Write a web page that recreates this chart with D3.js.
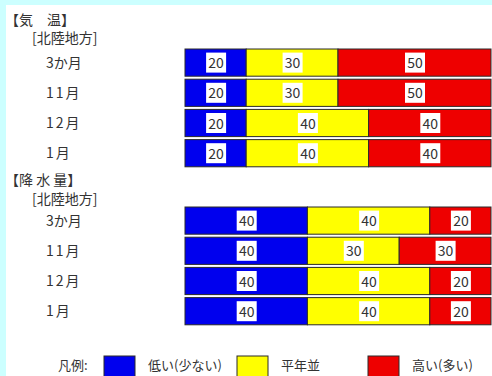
<!DOCTYPE html>
<html>
<head>
<meta charset="utf-8">
<script src="https://cdn.jsdelivr.net/npm/d3@7"></script>
<style>
  html, body { margin: 0; padding: 0; background: #ccffff; }
  svg { display: block; }
  text { font-family: "Noto Sans CJK JP", sans-serif; fill: #333; }
</style>
</head>
<body>
<div id="chart"></div>
<script>
// data
var categories = ["3か月", "11月", "12月", "1月"];
var tempLow = [20, 20, 20, 20];
var tempNormal = [30, 30, 40, 40];
var tempHigh = [50, 50, 40, 40];
var rainLow = [40, 40, 40, 40];
var rainNormal = [40, 30, 40, 40];
var rainHigh = [20, 30, 20, 20];
var legendLabels = ["低い(少ない)", "平年並", "高い(多い)"];
var colors = ["#0000ee", "#ffff00", "#ee0000"];

var width = 492, height = 376;

var svg = d3.select("#chart").append("svg")
	.attr("width", width)
	.attr("height", height);

// white panel
svg.append("rect")
	.attr("x", 6).attr("y", 5)
	.attr("width", width - 6).attr("height", height - 5)
	.attr("fill", "#fff");

var x = d3.scaleLinear().domain([0, 100]).range([185, 491]);

function section(title, titleY, subY, barTop, low, normal, high) {
	var g = svg.append("g");
	g.append("text").attr("x", 5).attr("y", titleY).attr("font-size", 14).text(title);
	g.append("text").attr("x", 32).attr("y", subY).attr("font-size", 14).text("[北陸地方]");

	// rows are 27px tall on a 30px pitch
	var y = d3.scaleBand().domain(categories).range([barTop - 1.5, barTop - 1.5 + 4 * 30.2]).paddingInner(0.1).paddingOuter(0.05);

	var rows = categories.map(function (c, i) {
		var vals = [low[i], normal[i], high[i]];
		var acc = 0;
		return vals.map(function (v, j) {
			var seg = { cat: c, k: j, v: v, x0: acc, x1: acc + v };
			acc += v;
			return seg;
		});
	});

	g.selectAll(".cat")
		.data(categories)
		.enter().append("text")
		.attr("x", 46)
		.attr("y", function (d) { return y(d) + y.bandwidth() / 2 + 5; })
		.attr("font-size", 14)
		.attr("letter-spacing", function (d) { return d === "3か月" ? 0 : 2; })
		.text(function (d) { return d; });

	var segs = g.selectAll(".seg")
		.data(d3.merge(rows))
		.enter().append("g");

	segs.append("rect")
		.attr("x", function (d) { return x(d.x0); })
		.attr("y", function (d) { return y(d.cat); })
		.attr("width", function (d) { return x(d.x1) - x(d.x0); })
		.attr("height", y.bandwidth())
		.attr("fill", function (d) { return colors[d.k]; })
		.attr("stroke", "#2a2a2a")
		.attr("stroke-width", 1);

	segs.append("rect")
		.attr("x", function (d) { return (x(d.x0) + x(d.x1)) / 2 - 9.5; })
		.attr("y", function (d) { return y(d.cat) + y.bandwidth() / 2 - 10; })
		.attr("width", 20)
		.attr("height", 20)
		.attr("fill", "#fff");

	segs.append("text")
		.attr("x", function (d) { return (x(d.x0) + x(d.x1)) / 2 + 0.5; })
		.attr("y", function (d) { return y(d.cat) + y.bandwidth() / 2 + 5.5; })
		.attr("text-anchor", "middle")
		.attr("font-size", 14)
		.text(function (d) { return d.v; });
}

section("【気　温】", 25, 43, 49, tempLow, tempNormal, tempHigh);
section("【降 水 量】", 185, 204, 207, rainLow, rainNormal, rainHigh);

// legend
var legend = svg.append("g");
legend.append("text").attr("x", 58).attr("y", 370).attr("font-size", 13).text("凡例:");
var legendX = [104, 237, 368];
legendLabels.forEach(function (l, i) {
	legend.append("rect")
		.attr("x", legendX[i]).attr("y", 356)
		.attr("width", 31).attr("height", 24)
		.attr("fill", colors[i])
		.attr("stroke", "#2a2a2a");
	legend.append("text")
		.attr("x", legendX[i] + 44).attr("y", 370)
		.attr("font-size", 13)
		.text(l);
});
</script>
</body>
</html>
